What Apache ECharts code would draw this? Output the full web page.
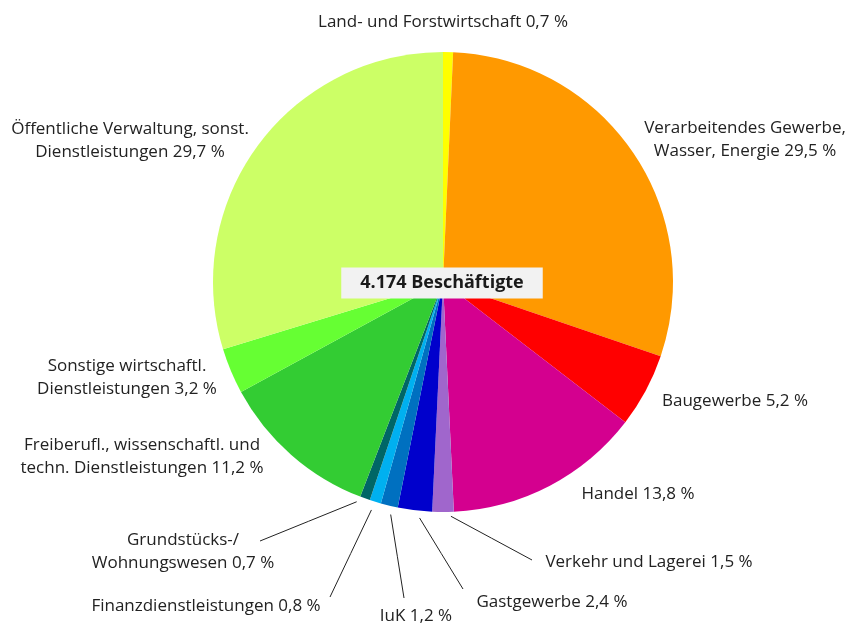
<!DOCTYPE html>
<html>
<head>
<meta charset="utf-8">
<script src="https://cdn.jsdelivr.net/npm/echarts@6/dist/echarts.min.js"></script>
<style>
    html, body { margin: 0; padding: 0; background: #fff; }
    #chart { width: 848px; height: 626px; }
</style>
</head>
<body>
<div id="chart"></div>
<script>
// Wirtschaftsbereiche, im Uhrzeigersinn ab 12 Uhr
var categories = ['Land- und Forstwirtschaft', 'Verarbeitendes Gewerbe,\nWasser, Energie', 'Baugewerbe', 'Handel',
    'Verkehr und Lagerei', 'Gastgewerbe', 'IuK', 'Finanzdienstleistungen', 'Grundstücks-/\nWohnungswesen',
    'Freiberufl., wissenschaftl. und\ntechn. Dienstleistungen', 'Sonstige wirtschaftl.\nDienstleistungen',
    'Öffentliche Verwaltung, sonst.\nDienstleistungen'];
var shares = [0.7, 29.5, 5.2, 13.8, 1.5, 2.4, 1.2, 0.8, 0.7, 11.2, 3.2, 29.7];
var colors = ['#ffff00', '#ff9900', '#ff0000', '#d4008f', '#a066cc', '#0000cc', '#0070c0', '#00b0f0',
    '#006666', '#33cc33', '#66ff33', '#ccff66'];
var totalLabel = '4.174 Beschäftigte';

// Lage der Beschriftungen (Textmitte) und Endpunkt der Hinweislinie (null = keine Linie)
var labelPos = [[443, 22], [745, 140], [735, 401], [638, 494], [649, 562], [552, 602], [416, 616],
    [206, 606], [183, 552], [142, 457], [127, 378], [130, 141]];
var lineEnd = [null, null, null, null, [532, 560], [463, 589], [404, 598], [330, 597], [260, 541],
    null, null, null];

var cx = 443, cy = 282, r = 230;

var myChart = echarts.init(document.getElementById('chart'));

var total = shares.reduce(function (a, b) { return a + b; }, 0);

function midAngle(i) {
    var before = 0;
    for (var k = 0; k < i; k++) before += shares[k];
    return (before + shares[i] / 2) / total * 2 * Math.PI;
}

var seriesData = categories.map(function (name, i) {
    return {
        name: name,
        value: shares[i],
        itemStyle: {color: colors[i]},
        labelLine: {show: lineEnd[i] !== null}
    };
});

var option = {
    animation: false,
    graphic: [{
        type: 'text',
        x: cx - 1,
        y: cy + 1,
        z: 100,
        style: {
            text: totalLabel,
            align: 'center',
            verticalAlign: 'middle',
            fontFamily: 'Open Sans',
            fontSize: 18,
            fontWeight: 'bold',
            fill: '#1a1a1a',
            backgroundColor: '#f2f2f2',
            padding: [6, 19, 7, 19]
        }
    }],
    series: [
        {
            type: 'pie',
            center: [cx, cy],
            radius: [0, r],
            startAngle: 90,
            clockwise: true,
            avoidLabelOverlap: false,
            data: seriesData,
            itemStyle: {borderWidth: 0},
            emphasis: {disabled: true},
            label: {
                show: true,
                position: 'outside',
                fontFamily: 'Open Sans',
                fontSize: 17,
                lineHeight: 23,
                color: '#222',
                align: 'center',
                formatter: function (p) {
                    return p.name + ' ' + p.value.toFixed(1).replace('.', ',') + ' %';
                }
            },
            labelLine: {
                lineStyle: {color: '#222', width: 1}
            },
            labelLayout: function (params) {
                var i = params.dataIndex;
                var res = {x: labelPos[i][0], y: labelPos[i][1], align: 'center', verticalAlign: 'middle'};
                if (lineEnd[i]) {
                    var a = midAngle(i);
                    var px = cx + r * Math.sin(a), py = cy - r * Math.cos(a);
                    var ex = lineEnd[i][0], ey = lineEnd[i][1];
                    var len = Math.sqrt((ex - px) * (ex - px) + (ey - py) * (ey - py));
                    var gap = 9;
                    var sx = px + (ex - px) / len * gap, sy = py + (ey - py) / len * gap;
                    res.labelLinePoints = [[sx, sy], [(sx + ex) / 2, (sy + ey) / 2], [ex, ey]];
                }
                return res;
            }
        }
    ]
};
myChart.setOption(option);
</script>
</body>
</html>
